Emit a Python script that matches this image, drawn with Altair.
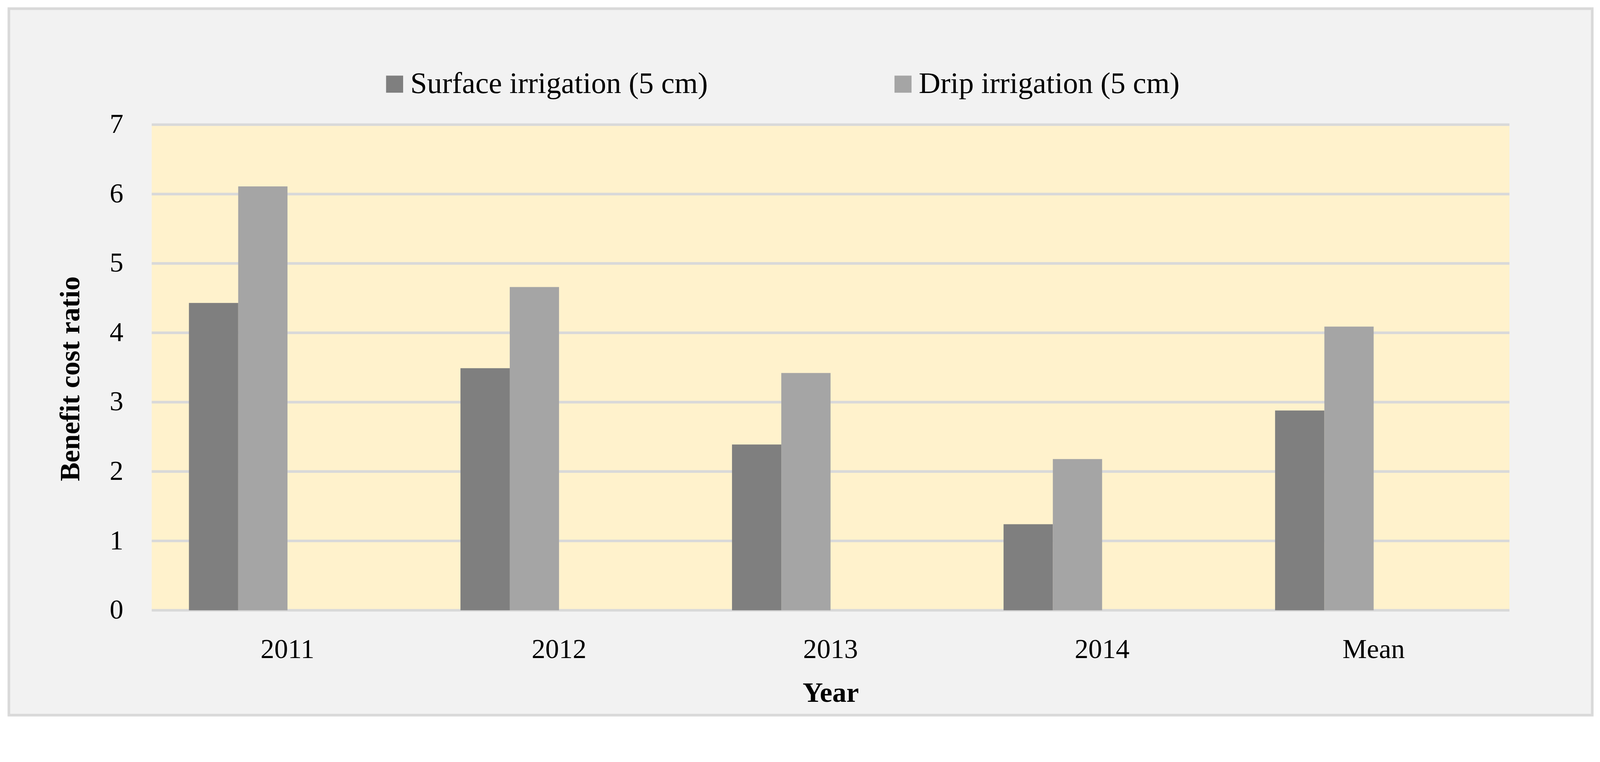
import altair as alt
import pandas as pd

categories = ["2011", "2012", "2013", "2014", "Mean"]
surface = [4.43, 3.49, 2.39, 1.24, 2.88]
drip = [6.11, 4.66, 3.42, 2.18, 4.09]
series = ["Surface irrigation (5 cm)", "Drip irrigation (5 cm)"]
slots = series + ["_empty1", "_empty2"]
colors = ["#7f7f7f", "#a5a5a5"]
y_ticks = [0, 1, 2, 3, 4, 5, 6, 7]

rows = []
for i, c in enumerate(categories):
    rows.append({"Year": c, "Series": series[0], "Value": surface[i]})
    rows.append({"Year": c, "Series": series[1], "Value": drip[i]})
df = pd.DataFrame(rows)
grid_df = pd.DataFrame({"Value": y_ticks})

W, H = 3664, 1310
FONT = "Palatino Linotype, Book Antiqua, Liberation Serif, serif"

yscale = alt.Scale(domain=[0, 7], nice=False)
yaxis = alt.Axis(title="Benefit cost ratio", values=y_ticks, labelFontSize=74,
                 labelPadding=77, labelColor="black", titleColor="black",
                 titleFontSize=76, titleFontWeight="bold", titlePadding=66, titleY=685,
                 domain=False, ticks=False, grid=False, zindex=1,
                 labelFont=FONT, titleFont=FONT)

one = alt.Data(values=[{"k": 1}])

border = alt.Chart(one).mark_rect(fill="#f2f2f2", stroke="#d9d9d9", strokeWidth=7).encode(
    x=alt.value(-385.5), x2=alt.value(3887.5), y=alt.value(-313), y2=alt.value(1593)
)
plotbg = alt.Chart(one).mark_rect(fill="#fff2cc").encode(
    x=alt.value(0), x2=alt.value(W), y=alt.value(0), y2=alt.value(H)
)
grid = alt.Chart(grid_df).mark_rule(color="#d9d9d9", strokeWidth=7).encode(
    y=alt.Y("Value:Q", scale=yscale, axis=yaxis),
    x=alt.value(0), x2=alt.value(W)
)

bars = alt.Chart(df).mark_bar().encode(
    x=alt.X("Year:N", sort=categories,
            scale=alt.Scale(paddingInner=0, paddingOuter=0),
            axis=alt.Axis(title="Year", labelAngle=0, labelFontSize=74, labelPadding=70,
                          labelColor="black", titleColor="black", titleFontSize=76,
                          titleFontWeight="bold", titlePadding=43, domain=False, ticks=False,
                          grid=False, zindex=1, labelFont=FONT, titleFont=FONT)),
    xOffset=alt.XOffset("Series:N", sort=slots,
                        scale=alt.Scale(domain=slots, paddingInner=0, paddingOuter=0.755)),
    y=alt.Y("Value:Q", scale=yscale, axis=yaxis),
    color=alt.Color("Series:N", scale=alt.Scale(domain=series, range=colors),
                    legend=alt.Legend(title=None, orient="none", legendX=615, legendY=-150,
                                      direction="horizontal", symbolType="square",
                                      symbolSize=2116, symbolStrokeWidth=0, symbolOpacity=1,
                                      labelFontSize=81, labelOffset=2, columnPadding=486,
                                      padding=0, zindex=1, labelLimit=3000,
                                      labelFont=FONT, labelColor="black")),
)

chart = alt.layer(border, plotbg, grid, bars).properties(
    width=W, height=H,
    autosize=alt.AutoSizeParams(type="none"),
    padding={"left": 401, "top": 275.5, "right": 236, "bottom": 349},
).configure(background="white").configure_view(stroke=None)

chart.save("out.html", embed_options={"renderer": "svg", "actions": False})
